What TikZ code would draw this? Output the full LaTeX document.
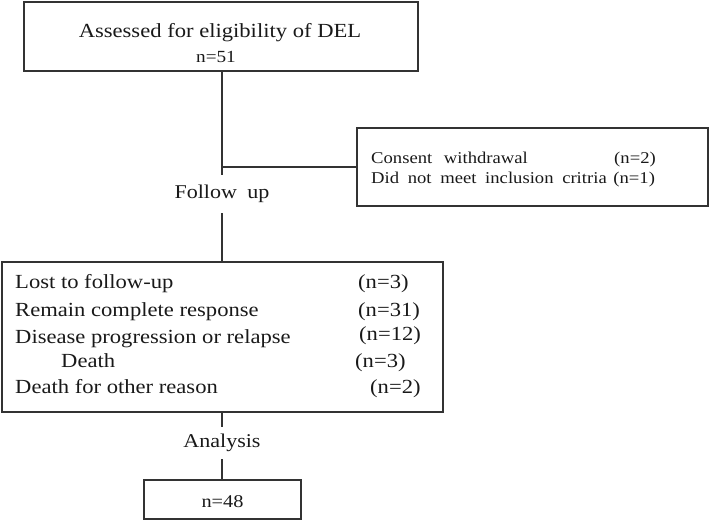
\documentclass[tikz,border=0pt]{standalone}
\usepackage{fontspec}
\setmainfont{Liberation Serif}[FakeStretch=1.13]
\begin{document}
\begin{tikzpicture}[x=1pt,y=-1pt,
  box/.style={draw=black!80,line width=1.3pt,inner sep=0pt,rectangle},
  conn/.style={draw=black!80,line width=1.3pt},
  txt/.style={inner sep=0pt,text=black!90,font=\fontsize{20}{22}\selectfont},
  rtxt/.style={inner sep=0pt,text=black!90,font=\fontsize{16.5}{20}\selectfont},
  lbl/.style={inner sep=0pt,text=black!90,font=\fontsize{19.5}{22}\selectfont}]
\useasboundingbox (0,0) rectangle (709,520);
% boxes
\node[box,minimum width=394pt,minimum height=69pt] (top) at (221,36.5) {};
\node[box,minimum width=351pt,minimum height=78pt] (right) at (532.5,167) {};
\node[box,minimum width=441pt,minimum height=150pt] (mid) at (222.5,337) {};
\node[box,minimum width=157pt,minimum height=39pt] (bot) at (222.5,499.5) {};
% top texts
\node[txt,anchor=base] (t1) at (220,37) {Assessed for eligibility of DEL};
\node[txt,anchor=base,font=\fontsize{17}{20}\selectfont] (t2) at (216,62) {n=51};
% right box texts
\node[rtxt,anchor=base west] (r1) at (371,163) {Consent\hspace{7pt} withdrawal};
\node[rtxt,anchor=base east] (r1n) at (656,163) {(n=2)};
\node[rtxt,anchor=base west] (r2) at (371,183) {Did\hspace{4pt} not\hspace{4pt} meet\hspace{4pt} inclusion\hspace{4pt} critria\hspace{2pt} (n=1)};
% labels on the trunk
\node[lbl,minimum height=38pt,minimum width=96pt] (fu) at (222,194) {Follow\hspace{5pt} up};
\node[lbl,minimum height=32pt,minimum width=82pt] (an) at (222,443) {Analysis};
% middle box texts
\node[txt,anchor=base west] (m1) at (15,288) {Lost to follow-up};
\node[txt,anchor=base west] (m2) at (15,316) {Remain complete response};
\node[txt,anchor=base west] (m3) at (15,343) {Disease progression or relapse};
\node[txt,anchor=base west] (m4) at (61,367) {Death};
\node[txt,anchor=base west] (m5) at (15,393) {Death for other reason};
\node[txt,anchor=base west] (n1) at (358,288) {(n=3)};
\node[txt,anchor=base west] (n2) at (358,316) {(n=31)};
\node[txt,anchor=base west] (n3) at (359,340) {(n=12)};
\node[txt,anchor=base west] (n4) at (355,367) {(n=3)};
\node[txt,anchor=base west] (n5) at (370,393) {(n=2)};
% bottom box text
\node[txt,anchor=base,font=\fontsize{18}{20}\selectfont] (b1) at (222.5,507) {n=48};
% connectors
\coordinate (j1) at (222,167);
\draw[conn] (top.south -| fu.north) -- (fu.north);
\draw[conn] (j1) -- (right.west);
\draw[conn] (fu.south) -- (fu.south |- mid.north);
\draw[conn] (an.north |- mid.south) -- (an.north);
\draw[conn] (an.south) -- (an.south |- bot.north);
\end{tikzpicture}
\end{document}
